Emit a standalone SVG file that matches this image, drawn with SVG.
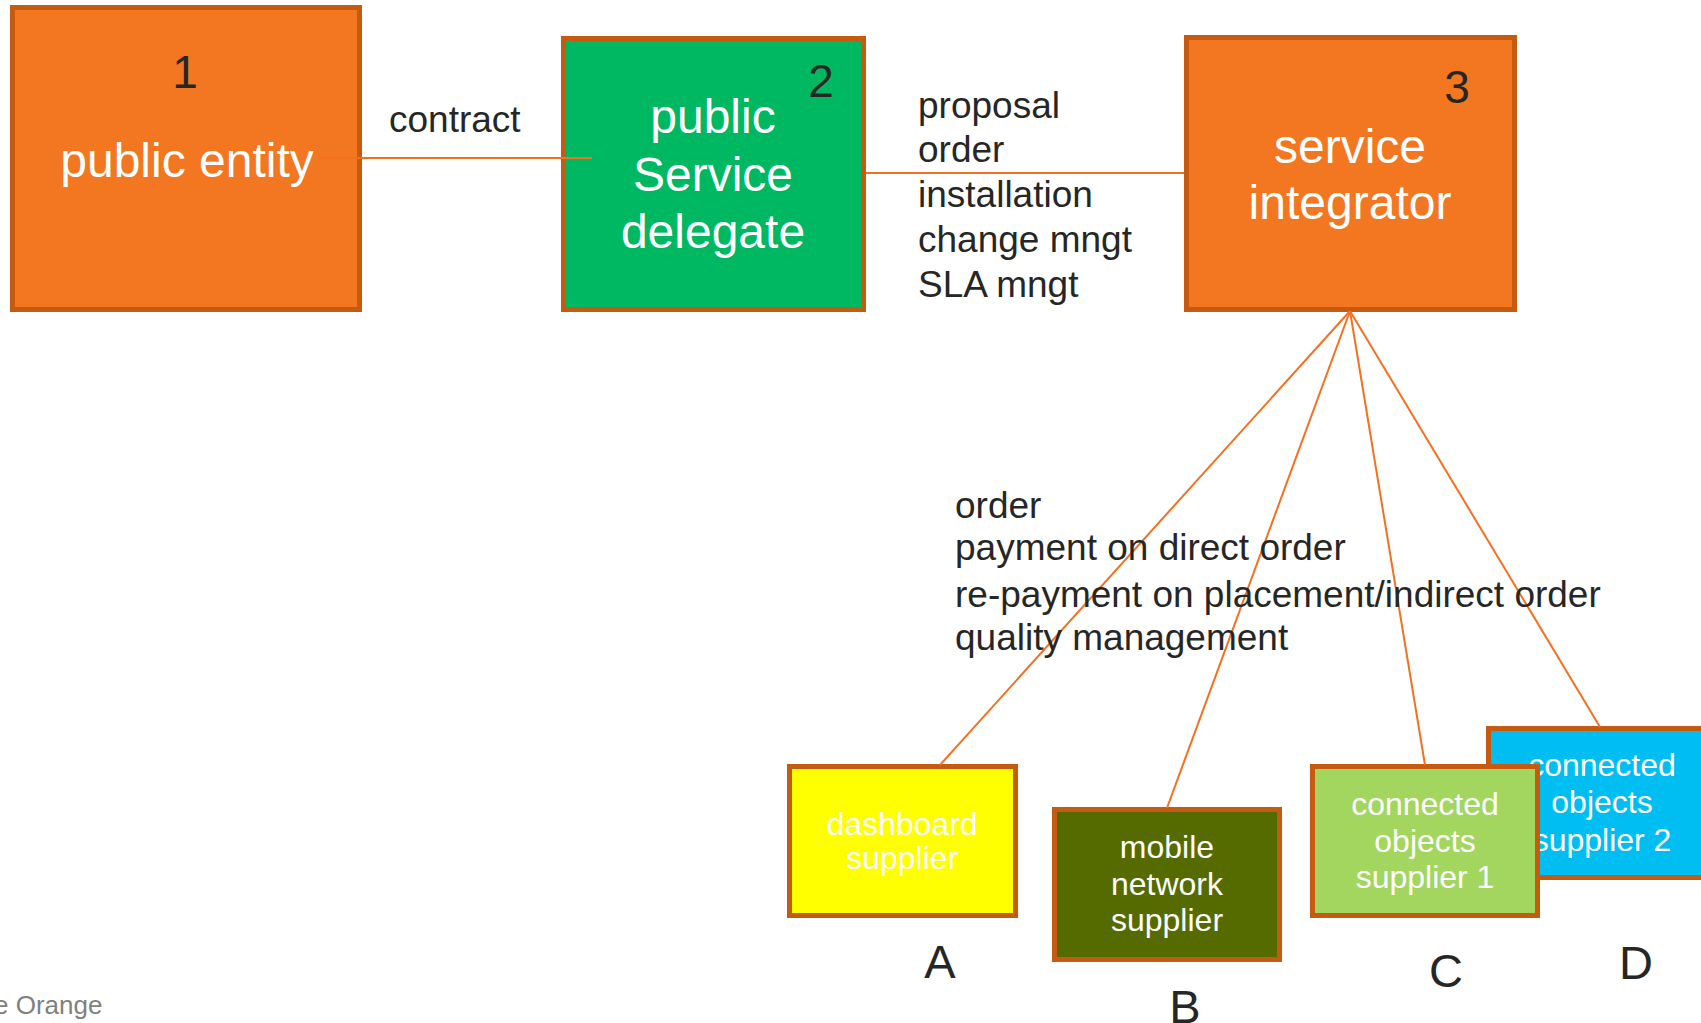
<svg xmlns="http://www.w3.org/2000/svg" width="1701" height="1023" viewBox="0 0 1701 1023">
<style>
.box{stroke:#C55A11;stroke-width:5}
.t{font-family:"Liberation Sans",Arial,sans-serif}
.w{fill:#FFFFFF}
.d{fill:#262626}
.big{font-size:48px}
.num{font-size:46px}
.lbl{font-size:37px}
.sm{font-size:32px}
.let{font-size:47px}
.con{stroke:#F37021;stroke-width:2;fill:none}
</style>
<rect width="1701" height="1023" fill="#FFFFFF"/>
<g id="node-1">
<rect class="box" x="12.5" y="7.5" width="347" height="302" fill="#F37621"/>
<text class="t d num" x="185" y="88" text-anchor="middle">1</text>
<text class="t w big" x="187" y="177" text-anchor="middle">public entity</text>
</g>
<g id="node-2">
<rect class="box" x="563.5" y="38.5" width="300" height="271" fill="#00B862"/>
<text class="t d num" x="821" y="97" text-anchor="middle">2</text>
<text class="t w big" x="713" y="133" text-anchor="middle">public</text>
<text class="t w big" x="713" y="191" text-anchor="middle">Service</text>
<text class="t w big" x="713" y="248" text-anchor="middle">delegate</text>
</g>
<g id="node-3">
<rect class="box" x="1186.5" y="37.5" width="328" height="272" fill="#F37621"/>
<text class="t d num" x="1457" y="103" text-anchor="middle">3</text>
<text class="t w big" x="1350" y="163" text-anchor="middle">service</text>
<text class="t w big" x="1350" y="219" text-anchor="middle">integrator</text>
</g>
<g id="node-D">
<rect class="box" x="1488.5" y="728.5" width="228" height="149" fill="#00BEF2"/>
<text class="t w sm" x="1602" y="776" text-anchor="middle">connected</text>
<text class="t w sm" x="1602" y="813" text-anchor="middle">objects</text>
<text class="t w sm" x="1602" y="851" text-anchor="middle">supplier 2</text>
</g>
<g id="node-A">
<rect class="box" x="789.5" y="766.5" width="226" height="149" fill="#FFFF00"/>
<text class="t w sm" x="902" y="835" text-anchor="middle">dashboard</text>
<text class="t w sm" x="902" y="869" text-anchor="middle">supplier</text>
</g>
<g id="node-B">
<rect class="box" x="1054.5" y="809.5" width="225" height="150" fill="#556B00"/>
<text class="t w sm" x="1167" y="858" text-anchor="middle">mobile</text>
<text class="t w sm" x="1167" y="895" text-anchor="middle">network</text>
<text class="t w sm" x="1167" y="931" text-anchor="middle">supplier</text>
</g>
<g id="node-C">
<rect class="box" x="1312.5" y="766.5" width="225" height="149" fill="#A2D65E"/>
<text class="t w sm" x="1425" y="815" text-anchor="middle">connected</text>
<text class="t w sm" x="1425" y="852" text-anchor="middle">objects</text>
<text class="t w sm" x="1425" y="888" text-anchor="middle">supplier 1</text>
</g>
<g id="connectors">
<line class="con" x1="320" y1="158" x2="592" y2="158"/>
<line class="con" x1="866" y1="173" x2="1184" y2="173"/>
<line class="con" x1="1350" y1="311" x2="940" y2="765"/>
<line class="con" x1="1350" y1="311" x2="1167" y2="808"/>
<line class="con" x1="1350" y1="311" x2="1425" y2="765"/>
<line class="con" x1="1350" y1="311" x2="1600" y2="727"/>
</g>
<g id="labels">
<text class="t d lbl" x="389" y="132">contract</text>
<text class="t d lbl" x="918" y="118">proposal</text>
<text class="t d lbl" x="918" y="162">order</text>
<text class="t d lbl" x="918" y="207">installation</text>
<text class="t d lbl" x="918" y="252">change mngt</text>
<text class="t d lbl" x="918" y="297">SLA mngt</text>
<text class="t d lbl" x="955" y="518">order</text>
<text class="t d lbl" x="955" y="560">payment on direct order</text>
<text class="t d lbl" x="955" y="607">re-payment on placement/indirect order</text>
<text class="t d lbl" x="955" y="650">quality management</text>
<text class="t d let" x="940" y="978" text-anchor="middle">A</text>
<text class="t d let" x="1185" y="1023" text-anchor="middle">B</text>
<text class="t d let" x="1446" y="987" text-anchor="middle">C</text>
<text class="t d let" x="1636" y="979" text-anchor="middle">D</text>
<text class="t" x="-6" y="1014" font-size="26" fill="#808080">e Orange</text>
</g>
</svg>
